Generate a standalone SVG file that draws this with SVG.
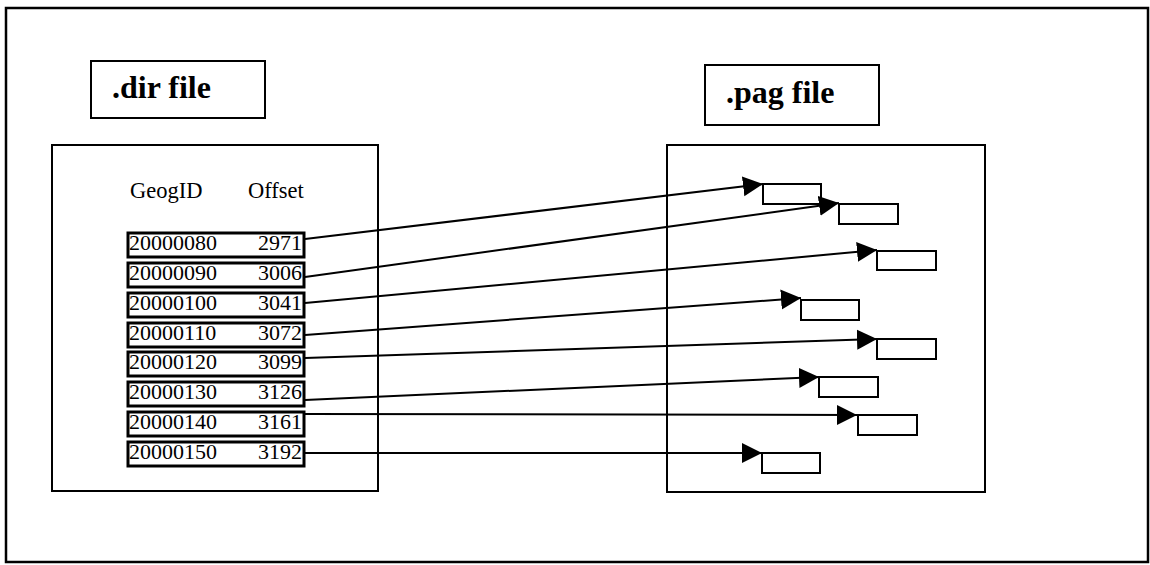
<svg xmlns="http://www.w3.org/2000/svg" width="1150" height="565" viewBox="0 0 1150 565">
<style>
.frame{fill:none;stroke:#000;stroke-width:2.5}
.box{fill:#fff;stroke:#000;stroke-width:2}
.row{fill:#fff;stroke:#000;stroke-width:3}
.rec{fill:#fff;stroke:#000;stroke-width:2}
.title{font-family:"Liberation Serif",serif;font-weight:bold;font-size:32px;fill:#000}
.hdr{font-family:"Liberation Serif",serif;font-size:22.5px;fill:#000}
.num{font-family:"Liberation Serif",serif;font-size:22px;fill:#000}
.conn{fill:none;stroke:#000;stroke-width:2}
</style>
<defs>
<marker id="ah" markerUnits="userSpaceOnUse" markerWidth="22" markerHeight="22" refX="20" refY="10" orient="auto" viewBox="0 0 22 20">
<path d="M0,0 L20,10 L0,20 Z" fill="#000"/>
</marker>
</defs>
<rect class="frame" x="6" y="8" width="1142" height="554"/>
<g id="dir-title">
<rect class="box" x="91" y="61" width="174" height="57"/>
<text class="title" x="112" y="98">.dir file</text>
</g>
<g id="pag-title">
<rect class="box" x="705" y="65" width="174" height="60"/>
<text class="title" x="726" y="103">.pag file</text>
</g>
<g id="dir-file">
<rect class="box" x="52" y="145" width="326" height="346"/>
<text class="hdr" x="130" y="198">GeogID</text>
<text class="hdr" x="248" y="198">Offset</text>
</g>
<g id="pag-file">
<rect class="box" x="667" y="145" width="318" height="347"/>
</g>
<g id="row1"><rect class="row" x="128" y="233" width="176" height="24"/><text class="num" x="129" y="250">20000080</text><text class="num" x="302" y="250" text-anchor="end">2971</text></g>
<g id="row2"><rect class="row" x="128" y="263" width="176" height="24"/><text class="num" x="129" y="280">20000090</text><text class="num" x="302" y="280" text-anchor="end">3006</text></g>
<g id="row3"><rect class="row" x="128" y="293" width="176" height="24"/><text class="num" x="129" y="310">20000100</text><text class="num" x="302" y="310" text-anchor="end">3041</text></g>
<g id="row4"><rect class="row" x="128" y="323" width="176" height="24"/><text class="num" x="129" y="340">20000110</text><text class="num" x="302" y="340" text-anchor="end">3072</text></g>
<g id="row5"><rect class="row" x="128" y="352" width="176" height="24"/><text class="num" x="129" y="369">20000120</text><text class="num" x="302" y="369" text-anchor="end">3099</text></g>
<g id="row6"><rect class="row" x="128" y="382" width="176" height="24"/><text class="num" x="129" y="399">20000130</text><text class="num" x="302" y="399" text-anchor="end">3126</text></g>
<g id="row7"><rect class="row" x="128" y="412" width="176" height="24"/><text class="num" x="129" y="429">20000140</text><text class="num" x="302" y="429" text-anchor="end">3161</text></g>
<g id="row8"><rect class="row" x="128" y="442" width="176" height="24"/><text class="num" x="129" y="459">20000150</text><text class="num" x="302" y="459" text-anchor="end">3192</text></g>
<g id="rec1"><rect class="rec" x="763" y="184" width="58" height="20"/></g>
<g id="rec2"><rect class="rec" x="839" y="204" width="59" height="20"/></g>
<g id="rec3"><rect class="rec" x="877" y="251" width="59" height="19"/></g>
<g id="rec4"><rect class="rec" x="801" y="300" width="58" height="20"/></g>
<g id="rec5"><rect class="rec" x="877" y="339" width="59" height="20"/></g>
<g id="rec6"><rect class="rec" x="819" y="377" width="59" height="20"/></g>
<g id="rec7"><rect class="rec" x="858" y="415" width="59" height="20"/></g>
<g id="rec8"><rect class="rec" x="762" y="453" width="58" height="20"/></g>
<g id="connectors">
<line class="conn" x1="305" y1="239" x2="763" y2="184" marker-end="url(#ah)"/>
<line class="conn" x1="305" y1="277" x2="839" y2="203" marker-end="url(#ah)"/>
<line class="conn" x1="305" y1="303" x2="877" y2="250" marker-end="url(#ah)"/>
<line class="conn" x1="305" y1="335" x2="801" y2="298" marker-end="url(#ah)"/>
<line class="conn" x1="305" y1="358" x2="877" y2="339" marker-end="url(#ah)"/>
<line class="conn" x1="305" y1="400" x2="819" y2="377" marker-end="url(#ah)"/>
<line class="conn" x1="305" y1="414" x2="857" y2="415" marker-end="url(#ah)"/>
<line class="conn" x1="305" y1="453" x2="762" y2="453" marker-end="url(#ah)"/>
</g>
</svg>
